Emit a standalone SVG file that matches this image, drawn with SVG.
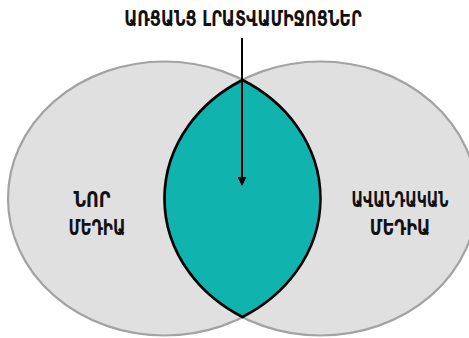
<svg xmlns="http://www.w3.org/2000/svg" width="469" height="338" viewBox="0 0 469 338">
<style>
.set{fill:#e0e0e0;stroke:#a3a3a3;stroke-width:2.2}
.lens{fill:#10b3ae;stroke:#000;stroke-width:2.6;stroke-linejoin:miter}
.lbl{font-family:"DejaVu Sans Condensed","DejaVu Sans",sans-serif;font-weight:bold;fill:#111;text-anchor:middle}
.conn{stroke:#000;stroke-width:2;fill:none}
</style>
<defs>
<marker id="ah" viewBox="0 0 10 10" refX="9" refY="5" markerWidth="4.5" markerHeight="4.5" orient="auto" markerUnits="strokeWidth">
<path d="M0,0 L10,5 L0,10 Z" fill="#000"/>
</marker>
</defs>
<rect width="469" height="338" fill="#fff"/>
<g id="new-media">
<ellipse class="set" cx="164.5" cy="198.5" rx="156.5" ry="137"/>
</g>
<g id="traditional-media">
<ellipse class="set" cx="320.5" cy="198.5" rx="156.5" ry="137"/>
</g>
<g id="overlap">
<path class="lens" d="M242.5,80 A156.5,137 0 0,0 242.5,317 A156.5,137 0 0,0 242.5,80 Z"/>
</g>
<g id="connectors">
<line class="conn" x1="242" y1="38" x2="242" y2="185" marker-end="url(#ah)"/>
</g>
<g id="title">
<text class="lbl" transform="translate(243,26) scale(0.81,1)" font-size="22">ԱՌՑԱՆՑ ԼՐԱՏՎԱՄԻՋՈՑՆԵՐ</text>
</g>
<g id="label-new">
<text class="lbl" transform="translate(92,207) scale(0.93,1)" font-size="21">ՆՈՐ</text>
<text class="lbl" transform="translate(97,235) scale(0.81,1)" font-size="21">ՄԵԴԻԱ</text>
</g>
<g id="label-traditional">
<text class="lbl" transform="translate(400,207) scale(0.75,1)" font-size="21">ԱՎԱՆԴԱԿԱՆ</text>
<text class="lbl" transform="translate(400,235) scale(0.86,1)" font-size="21">ՄԵԴԻԱ</text>
</g>
</svg>
